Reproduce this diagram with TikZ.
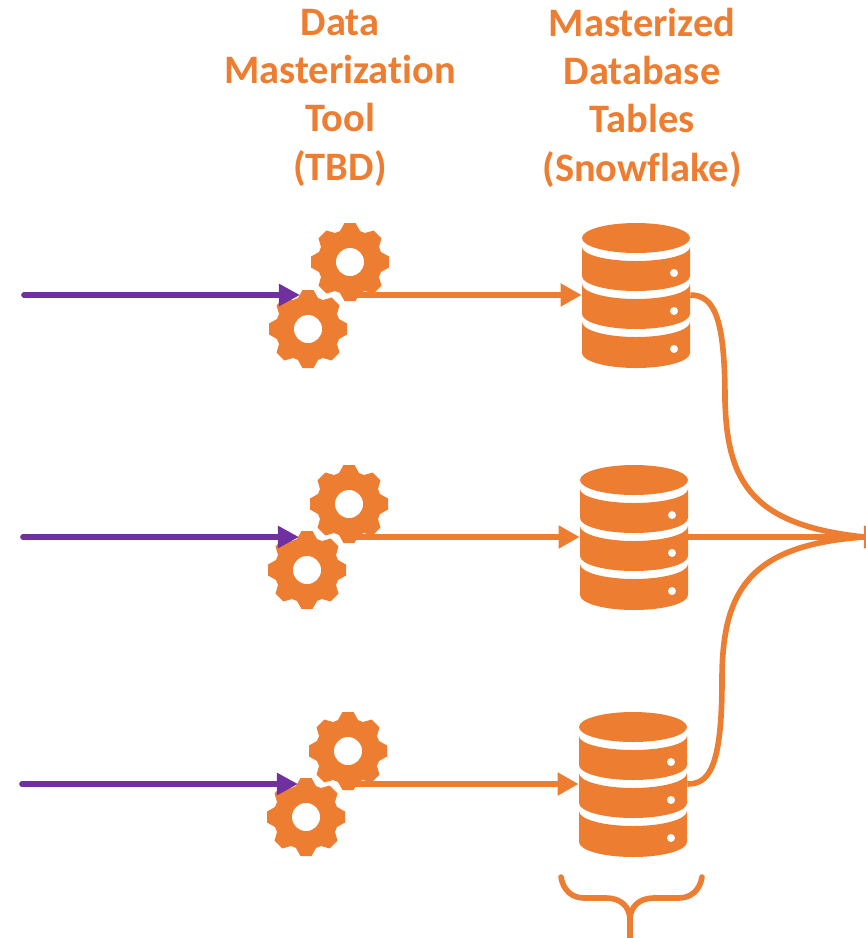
\documentclass[tikz,border=0pt]{standalone}
\usepackage{fontspec}
\setmainfont[RawFeature=-liga]{Carlito}
\usepackage{tikz}
\usetikzlibrary{arrows.meta}

\definecolor{flowOrange}{HTML}{ED7D31}
\definecolor{flowPurple}{HTML}{7030A0}

\tikzset{
  headText/.style={text=flowOrange, align=center, font=\fontsize{23}{27.5}\selectfont\bfseries},
  purpleFlow/.style={draw=flowPurple, line width=3.2pt, line cap=round, -{Triangle[length=12pt,width=12pt]}},
  orangeFlow/.style={draw=flowOrange, line width=3.2pt, -{Triangle[length=12pt,width=12.5pt]}},
  mergeFlow/.style={draw=flowOrange, line width=3.2pt},
  dbNode/.style={minimum width=2.16cm, minimum height=2.9cm, inner sep=0pt},
  gearIcon/.pic={
    % white halo first, so a gear in front stands off the one behind
    \foreach \a in {0,45,...,315} \path[draw=white, fill=white, line width=3.4pt, rotate=\a] (-10,-31) -- (-5.5,-39) -- (5.5,-39) -- (10,-31) -- cycle;
    \fill[flowOrange] (0,0) circle (32.5);
    \foreach \a in {0,45,...,315} \fill[flowOrange, rotate=\a] (-10,-31) -- (-5.5,-39) -- (5.5,-39) -- (10,-31) -- cycle;
    \fill[white] (0,0) circle (14);
  },
  dbIcon/.pic={
    \fill[flowOrange] (0,-57) ellipse [x radius=54, y radius=15];
    \fill[flowOrange] (-54,-48) arc [start angle=180, end angle=0, x radius=54, y radius=14] -- (54,-19) arc [start angle=0, end angle=180, x radius=54, y radius=15] -- cycle;
    \fill[flowOrange] (-54,-11) arc [start angle=180, end angle=0, x radius=54, y radius=15] -- (54,19) arc [start angle=0, end angle=180, x radius=54, y radius=15] -- cycle;
    \fill[flowOrange] (-54,27) arc [start angle=180, end angle=0, x radius=54, y radius=15] -- (54,58) arc [start angle=0, end angle=180, x radius=54, y radius=15] -- cycle;
    \fill[white] (38,-22) circle (4);
    \fill[white] (38,16) circle (4);
    \fill[white] (38,54) circle (4);
  }
}

\begin{document}
\begin{tikzpicture}[x=0.02cm, y=-0.02cm]

   \useasboundingbox (0,0) rectangle (866,938);

   \node[headText] (toolHead) at (340,97.5) {Data\\Masterization\\Tool\\(TBD)};
   \node[headText] (tableHead) at (642,97.5) {Masterized\\Database\\Tables\\(Snowflake)};

   \node[dbNode] (db1) at (636,295) {};
   \node[dbNode] (db2) at (634,537) {};
   \node[dbNode] (db3) at (633,784) {};

   \coordinate (src1) at (24,295);
   \coordinate (src2) at (23,537);
   \coordinate (src3) at (22,784);
   \coordinate (tool1) at (300,295);
   \coordinate (tool2) at (299,537);
   \coordinate (tool3) at (298,784);
   \coordinate (out1) at (352,295);
   \coordinate (out2) at (351,537);
   \coordinate (out3) at (350,784);
   \coordinate (merge) at (864,537);
   \coordinate (mergeTip) at (885,537);

   % first row
   \pic at (350,262) {gearIcon};
   \draw[orangeFlow] (out1) -- (db1.west);
   \pic at (308,329) {gearIcon};
   \draw[purpleFlow] (src1) -- (tool1);
   \pic at (db1) {dbIcon};

   % second row
   \pic at (349,504) {gearIcon};
   \draw[orangeFlow] (out2) -- (db2.west);
   \pic at (307,570) {gearIcon};
   \draw[purpleFlow] (src2) -- (tool2);
   \pic at (db2) {dbIcon};

   % third row
   \pic at (348,751) {gearIcon};
   \draw[orangeFlow] (out3) -- (db3.west);
   \pic at (306,817) {gearIcon};
   \draw[purpleFlow] (src3) -- (tool3);
   \pic at (db3) {dbIcon};

   % tables run together on the right
   \draw[mergeFlow] (db1.east) .. controls (715,295) and (725,320) .. (725,400) .. controls (727,480) and (750,525) .. (merge);
   \draw[mergeFlow] (db2.east) -- (merge);
   \draw[mergeFlow] (db3.east) .. controls (708,784) and (722,770) .. (722,680) .. controls (722,590) and (750,545) .. (merge);
   \draw[orangeFlow] (merge) -- (mergeTip);

   % brace below the last table
   \coordinate (braceStem) at (630,938);
   \draw[mergeFlow, line cap=round] (561,877) .. controls (563,890) and (572,898) .. (584,898) -- (606,898) .. controls (620,898) and (630,906) .. (630,920);
   \draw[mergeFlow, line cap=round] (702,877) .. controls (700,890) and (691,898) .. (679,898) -- (654,898) .. controls (640,898) and (630,906) .. (630,920);
   \draw[mergeFlow] (630,915) -- (braceStem);

\end{tikzpicture}
\end{document}
